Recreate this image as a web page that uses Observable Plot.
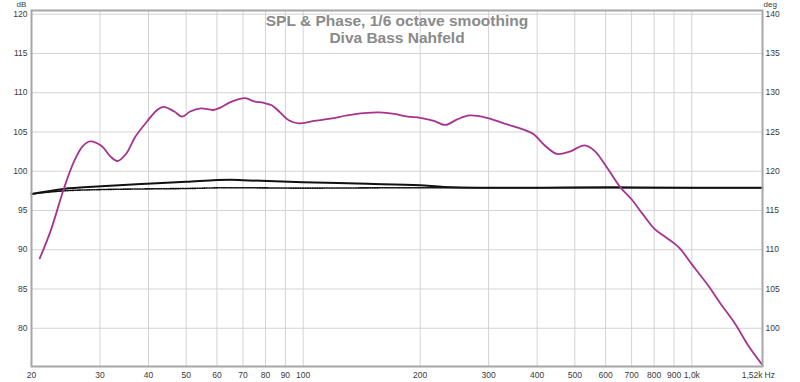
<!DOCTYPE html>
<html>
<head>
<meta charset="utf-8">
<script src="https://cdn.jsdelivr.net/npm/d3@7"></script>
<script src="https://cdn.jsdelivr.net/npm/@observablehq/plot@0.6"></script>
<style>
  html, body { margin: 0; padding: 0; background: #fff; }
  #chart svg { display: block; }
</style>
</head>
<body>
<div id="chart"></div>
<script>
// ---- Data ----
const titleLines = ["SPL & Phase, 1/6 octave smoothing", "Diva Bass Nahfeld"];

// SPL curve: frequency (Hz) and level (dB)
const splFreq = [21.0, 22.4, 24.2, 25.7, 27.1, 28.3, 30.3, 31.9, 33.3, 35.0, 37.0, 39.6, 42.1, 43.7, 46.6, 48.8, 51.2, 54.5, 58.7, 61.2, 65.0, 70.9, 74.7, 79.2, 83.0, 87.2, 91.8, 97.4, 106.5, 117.6, 129.8, 143.4, 156.9, 171.7, 185.6, 200, 217, 232.5, 249, 268, 297, 328, 369, 392, 416, 450, 485, 530, 562, 606, 655, 703, 746, 800, 857, 926, 998, 1096, 1187, 1291, 1405, 1520];
const splDb   = [88.9, 92.4, 97.7, 101.2, 103.2, 103.8, 103.2, 101.9, 101.3, 102.2, 104.4, 106.3, 107.8, 108.2, 107.6, 106.95, 107.6, 108.0, 107.8, 108.1, 108.8, 109.3, 108.9, 108.7, 108.4, 107.5, 106.5, 106.1, 106.4, 106.7, 107.1, 107.4, 107.5, 107.3, 106.95, 106.8, 106.4, 105.9, 106.6, 107.1, 106.8, 106.1, 105.3, 104.7, 103.4, 102.2, 102.5, 103.3, 102.6, 100.4, 97.95, 96.3, 94.6, 92.7, 91.6, 90.3, 88.2, 85.6, 83.1, 80.6, 77.6, 75.3];

// Phase (solid): frequency (Hz) and phase (deg, right axis)
const phaseFreq = [20, 24.2, 29.5, 39.6, 50, 65, 70, 100, 146, 200, 230, 280, 400, 600, 1000, 1520];
const phaseDeg  = [117.1, 117.75, 118.05, 118.4, 118.65, 118.9, 118.85, 118.6, 118.4, 118.2, 118.0, 117.9, 117.9, 117.95, 117.9, 117.9];

// Phase (dotted): frequency (Hz) and phase (deg)
const phase2Freq = [20, 24.2, 29.5, 39.6, 50, 65, 100, 200, 1520];
const phase2Deg  = [117.1, 117.5, 117.65, 117.75, 117.8, 117.9, 117.85, 117.9, 117.9];

// Axes
const xTicks = [20, 30, 40, 50, 60, 70, 80, 90, 100, 200, 300, 400, 500, 600, 700, 800, 900, 1000];
const xTickLabels = ["20", "30", "40", "50", "60", "70", "80", "90", "100", "200", "300", "400", "500", "600", "700", "800", "900", "1,0k"];
const xEndTick = [1520];
const xEndLabel = ["1,52k"];
const yTicks = [80, 85, 90, 95, 100, 105, 110, 115, 120];
const degOffset = 20; // right axis: deg = dB + 20

// ---- Build tables ----
const spl = splFreq.map((f, i) => ({f, v: splDb[i]}));
const phase = phaseFreq.map((f, i) => ({f, v: phaseDeg[i] - degOffset}));
const phase2 = phase2Freq.map((f, i) => ({f, v: phase2Deg[i] - degOffset}));
const xLabelRows = xTicks.map((t, i) => ({t, label: xTickLabels[i]}));
const xEndRows = xEndTick.map((t, i) => ({t, label: xEndLabel[i]}));

const gridColor = "#d3d3d3";
const frameColor = "#a6a6a6";
const textColor = "#3a3a3a";

const chart = Plot.plot({
  width: 800,
  height: 382,
  marginLeft: 31,
  marginRight: 38,
  marginTop: 10,
  marginBottom: 16,
  style: {fontFamily: "'Liberation Sans', Arial, sans-serif", fontSize: "8.5px", color: textColor, background: "#fff"},
  x: {type: "log", domain: [20, 1520], axis: null},
  y: {domain: [75.13, 120.47], axis: null},
  marks: [
    Plot.gridX(xTicks, {stroke: gridColor, strokeOpacity: 1, strokeWidth: 1}),
    Plot.gridY(yTicks, {stroke: gridColor, strokeOpacity: 1, strokeWidth: 1}),
    Plot.text([titleLines[0]], {frameAnchor: "top", dy: 11, fontSize: 15.5, fontWeight: "bold", fill: "#8a8a8a", lineAnchor: "middle"}),
    Plot.text([titleLines[1]], {frameAnchor: "top", dy: 27.3, fontSize: 15.5, fontWeight: "bold", fill: "#8a8a8a", lineAnchor: "middle"}),
    Plot.line(phase2, {x: "f", y: "v", stroke: "#111", strokeWidth: 1.6, strokeDasharray: "1.2,1.2", curve: "monotone-x"}),
    Plot.line(phase, {x: "f", y: "v", stroke: "#111", strokeWidth: 2, curve: "monotone-x"}),
    Plot.line(spl, {x: "f", y: "v", stroke: "#a5338f", strokeWidth: 1.8, curve: "catmull-rom"}),
    Plot.frame({stroke: frameColor, strokeWidth: 2}),
    // x tick labels (text marks positioned by the log x scale)
    Plot.text(xLabelRows, {x: "t", text: "label", frameAnchor: "bottom", lineAnchor: "top", dy: 5, fill: textColor}),
    Plot.text(xEndRows, {x: "t", text: "label", frameAnchor: "bottom", lineAnchor: "top", dy: 5, textAnchor: "end", fill: textColor}),
    Plot.text(["Hz"], {frameAnchor: "bottom-right", dx: 2, dy: 5, lineAnchor: "top", textAnchor: "start", fill: textColor}),
    Plot.axisY(yTicks, {anchor: "left", tickSize: 0, tickPadding: 4, label: null, fill: textColor}),
    Plot.axisY(yTicks, {anchor: "right", tickSize: 0, tickPadding: 3, tickFormat: d => String(d + degOffset), label: null, fill: textColor}),
    Plot.text(["dB"], {frameAnchor: "top-left", dx: -10, dy: -9.5, lineAnchor: "top", fontSize: 8, textAnchor: "middle", fill: textColor}),
    Plot.text(["deg"], {frameAnchor: "top-right", dx: 1, dy: -9.5, lineAnchor: "top", fontSize: 8, textAnchor: "start", fill: textColor})
  ]
});
document.getElementById("chart").appendChild(chart);
</script>
</body>
</html>
